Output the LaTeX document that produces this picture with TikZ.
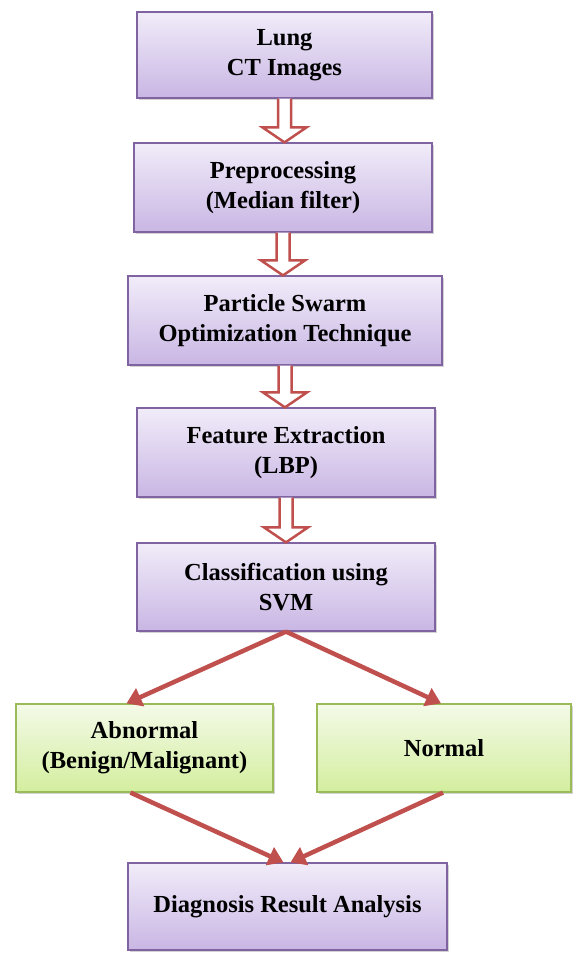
\documentclass[tikz,border=0pt]{standalone}
\usepackage{fontspec}
\setmainfont{Liberation Serif}
\usetikzlibrary{arrows.meta,calc,shadows}

\definecolor{boxline}{HTML}{8064A2}
\definecolor{boxtop}{HTML}{F1ECF9}
\definecolor{boxbot}{HTML}{C9B6E4}
\definecolor{leafline}{HTML}{9BBB59}
\definecolor{leaftop}{HTML}{F4FAE8}
\definecolor{leafbot}{HTML}{D3EE9E}
\definecolor{arrowred}{HTML}{C0504D}

% hollow block arrow between two stacked boxes
\newcommand{\hollowarrow}[2]{%
  \filldraw[hollow] let \p1=(#1.south), \p2=(#2.north) in
    (\x1-6.5pt,\y1) -- (\x1-6.5pt,\y2+15pt) -- (\x1-22pt,\y2+15pt) -- (\x1,\y2)
    -- (\x1+22pt,\y2+15pt) -- (\x1+6.5pt,\y2+15pt) -- (\x1+6.5pt,\y1);}

\begin{document}
\begin{tikzpicture}[x=1pt,y=1pt,
    stepbox/.style={draw=boxline, line width=1.2pt, top color=boxtop, bottom color=boxbot,
      drop shadow={shadow xshift=2pt, shadow yshift=-2.5pt, opacity=0.35},
      align=center, font=\fontsize{24.5}{30}\selectfont\bfseries},
    leafbox/.style={stepbox, draw=leafline, top color=leaftop, bottom color=leafbot},
    hollow/.style={draw=arrowred, fill=white, line width=2.5pt, line join=miter},
    link/.style={draw=arrowred, line width=4.5pt, -{Triangle[length=15pt,width=19pt]}}]
    \useasboundingbox (0,0) rectangle (573,953);

    % Pipeline boxes
    \node[stepbox, minimum width=295pt, minimum height=86pt] (lung) at (284.5,898) {Lung\\CT Images};
    \node[stepbox, minimum width=298pt, minimum height=89pt] (prep) at (283,765.5) {Preprocessing\\(Median filter)};
    \node[stepbox, minimum width=314pt, minimum height=89pt] (pso) at (285,632.5) {Particle Swarm\\Optimization Technique};
    \node[stepbox, minimum width=298pt, minimum height=89pt] (feat) at (286,500.5) {Feature Extraction\\(LBP)};
    \node[stepbox, minimum width=298pt, minimum height=88pt] (svm) at (286,366) {Classification using\\SVM};

    % Outcomes
    \node[leafbox, minimum width=257pt, minimum height=88pt] (abn) at (144.5,205) {Abnormal\\(Benign/Malignant)};
    \node[leafbox, minimum width=254pt, minimum height=88pt] (norm) at (444,205) {Normal};

    % Result
    \node[stepbox, minimum width=319pt, minimum height=87pt] (diag) at (287.5,46.5) {Diagnosis Result Analysis};

    % Hollow arrows down the pipeline
    \hollowarrow{lung}{prep}
    \hollowarrow{prep}{pso}
    \hollowarrow{pso}{feat}
    \hollowarrow{feat}{svm}

    % Branching arrows
    \draw[link] (svm.south) -- ([xshift=-18pt]abn.north);
    \draw[link] (svm.south) -- ([xshift=-3pt]norm.north);
    \draw[link] ([xshift=-14pt]abn.south) -- ([xshift=-4pt]diag.north);
    \draw[link] ([xshift=-1pt]norm.south) -- ([xshift=3pt]diag.north);
\end{tikzpicture}
\end{document}
